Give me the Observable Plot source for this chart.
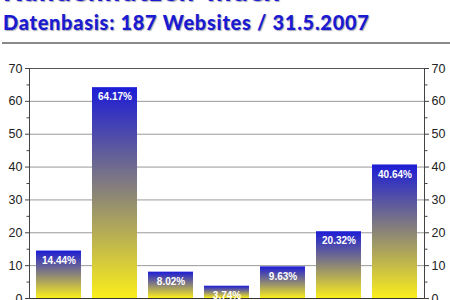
<!DOCTYPE html>
<html>
<head>
<meta charset="utf-8">
<script src="https://cdn.jsdelivr.net/npm/d3@7"></script>
<script src="https://cdn.jsdelivr.net/npm/@observablehq/plot@0.6"></script>
<style>
  html, body { margin: 0; padding: 0; background: #fff; }
  #wrap { position: relative; width: 450px; height: 300px; overflow: hidden; }
  .hdr { position: absolute; left: 3px; font-family: Lato, "Open Sans", sans-serif; font-weight: 900; color: #1a1ad2;
         text-shadow: 1px 1px 1px rgba(60,60,90,0.45); white-space: nowrap; line-height: 1; }
  #title { top: -23px; font-size: 27px; letter-spacing: 1.3px; }
  #subtitle { top: 12px; font-size: 20px; letter-spacing: 0.7px; }
  #rule { position: absolute; left: 2px; right: 0; top: 42px; height: 2px; background: #8a8a8a; }
  #chart { position: absolute; left: 0; top: 55px; }
</style>
</head>
<body>
<div id="wrap">
  <div id="title" class="hdr">Kundennutzen-Index</div>
  <div id="subtitle" class="hdr">Datenbasis: 187 Websites / 31.5.2007</div>
  <div id="rule"></div>
  <div id="chart"></div>
</div>
<script>
const categories = ["1", "2", "3", "4", "5", "6", "7"];
const values = [14.44, 64.17, 8.02, 3.74, 9.63, 20.32, 40.64];
const majorTicks = [0, 10, 20, 30, 40, 50, 60, 70];
const minorTicks = [5, 15, 25, 35, 45, 55, 65];

const data = categories.map((c, i) => ({category: c, value: values[i]}));

const svg = Plot.plot({
  width: 450,
  height: 245,
  marginLeft: 29,
  marginRight: 26,
  marginTop: 13,
  marginBottom: 2,
  style: {fontFamily: "'Liberation Sans', Arial, sans-serif", fontSize: "12.5px", color: "#222", background: "transparent", overflow: "visible"},
  x: {domain: categories, paddingInner: 0.2, paddingOuter: 0.1, axis: null},
  y: {domain: [0, 70], axis: null},
  marks: [
    Plot.ruleY(majorTicks.filter(t => t > 0 && t < 70), {stroke: "#999", strokeWidth: 1}),
    Plot.ruleY([70], {stroke: "#555", strokeWidth: 1}),
    Plot.ruleY([0], {stroke: "#333", strokeWidth: 1.2}),
    Plot.frame({anchor: "left", stroke: "#444"}),
    Plot.frame({anchor: "right", stroke: "#444"}),
    Plot.barY(data, {x: "category", y: "value", fill: "url(#barGrad)"}),
    Plot.text(data, {x: "category", y: "value", text: d => d.value.toFixed(2) + "%", dy: 9.5,
      fill: "white", fontWeight: "bold", fontSize: 10}),
    Plot.axisY({anchor: "left", ticks: majorTicks, tickSize: 4, tickPadding: 3, stroke: "#444", label: null}),
    Plot.axisY({anchor: "left", ticks: minorTicks, tickSize: 2.5, tickFormat: () => "", stroke: "#444", label: null}),
    Plot.axisY({anchor: "right", ticks: majorTicks, tickSize: 4, tickPadding: 3, stroke: "#444", label: null}),
    Plot.axisY({anchor: "right", ticks: minorTicks, tickSize: 2.5, tickFormat: () => "", stroke: "#444", label: null})
  ]
});

const defs = d3.select(svg).insert("defs", ":first-child");
const grad = defs.append("linearGradient").attr("id", "barGrad")
  .attr("x1", 0).attr("y1", 0).attr("x2", 0).attr("y2", 1);
grad.append("stop").attr("offset", "0%").attr("stop-color", "#1c1cd6");
grad.append("stop").attr("offset", "50%").attr("stop-color", "#8a8478");
grad.append("stop").attr("offset", "100%").attr("stop-color", "#fbee1c");

document.getElementById("chart").appendChild(svg);
</script>
</body>
</html>
